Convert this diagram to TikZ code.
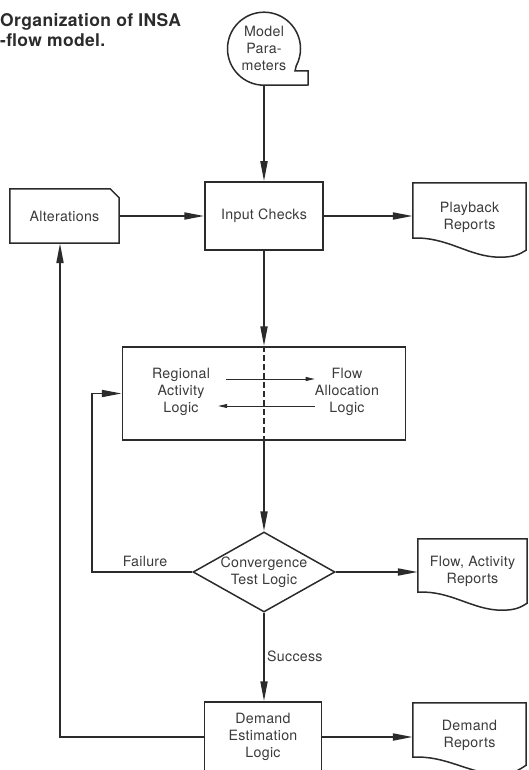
\documentclass[tikz,border=0pt]{standalone}
\usepackage{fontspec}
\setmainfont{TeX Gyre Heros}[LetterSpace=2]
\usetikzlibrary{arrows.meta,shapes.geometric,calc}
\definecolor{ink}{HTML}{2B2B2B}
\definecolor{txt}{HTML}{3A3A3A}

% document symbol: node, width, left drop, dip below, right rise
\newcommand\drawdoc[5]{%
  \draw[outline] ($(#1.south west)+(0,-#3)$) -- (#1.north west) -- (#1.north east)
    -- ($(#1.south east)+(0,-#5)$)
    .. controls ($(#1.south east)+(-0.06*#2,-#5+4)$) and ($(#1.south west)+(0.9*#2,#4)$)
    .. ($(#1.south west)+(0.77*#2,#4)$)
    .. controls ($(#1.south west)+(0.5*#2,#4)$) and ($(#1.south west)+(0.3*#2,-#3-2)$)
    .. cycle;}

\begin{document}
\begin{tikzpicture}[x=1pt,y=-1pt,
  every node/.style={font=\fontsize{14.2}{17}\selectfont, text=txt, align=center},
  outline/.style={draw=ink, line width=1.5pt, line join=miter},
  boxnode/.style={outline, rectangle, inner sep=0pt},
  bare/.style={inner sep=0pt},
  conn/.style={draw=ink, line width=1.9pt, -{Triangle[length=20pt,width=7pt]}},
  thinarrow/.style={draw=ink, line width=1pt, -{Triangle[length=9pt,width=4pt]}},
  headline/.style={font=\fontsize{17.5}{20}\selectfont\bfseries, anchor=base west,
    align=left, inner sep=0pt, text=ink}
]
\useasboundingbox (0,0) rectangle (528,770);

% heading
\node[headline] (head1) at (0,26.7) {Organization of INSA};
\node[headline] (head2) at (0,46.7) {-flow model.};

% nodes
\node[bare, circle, minimum size=73pt] (params) at (264,48.5) {Model\\Para-\\meters};
\node[boxnode, minimum width=118pt, minimum height=68pt] (ic) at (264,216) {Input Checks};
\node[bare, minimum width=109pt, minimum height=54pt] (alt) at (64.5,216) {Alterations};
\node[bare, minimum width=113pt, minimum height=68pt] (pb) at (469.5,217) {Playback\\Reports};
\node[boxnode, minimum width=283pt, minimum height=93pt] (logic) at (264,393.5) {};
\node[bare, minimum width=74pt] (regional) at (181,392) {Regional\\Activity\\Logic};
\node[bare, minimum width=60pt] (flowalloc) at (347,392) {Flow\\Allocation\\Logic};
\node[diamond, outline, aspect=1.775, inner sep=0pt, minimum width=142pt,
      minimum height=80pt] (conv) at (264,572) {Convergence\\Test Logic};
\node[bare, minimum width=109pt, minimum height=64pt] (far) at (472.5,571) {Flow, Activity\\Reports};
\node[boxnode, minimum width=117pt, minimum height=70pt] (dem) at (263,737) {Demand\\Estimation\\Logic};
\node[bare, minimum width=113pt, minimum height=64pt] (dr) at (469.5,735) {Demand\\Reports};
\node[bare] (failure) at (145,561) {Failure};
\node[bare, anchor=west] (success) at (267,656) {Success};

% magnetic tape outline
\draw[outline] (params.south) arc[start angle=90, end angle=388, radius=36.5]
  -- ($(params.center)+(31,22.5)$) -- ($(params.center)+(44,22.5)$)
  -- ($(params.center)+(44,36.5)$) -- cycle;

% card outline
\draw[outline] (alt.south west) -- (alt.north west) -- ([xshift=-9pt]alt.north east)
  -- ([yshift=-9pt]alt.north east) -- (alt.south east) -- cycle;

% report documents
\drawdoc{pb}{113}{13}{6}{1}
\drawdoc{far}{109}{11}{7}{0}
\drawdoc{dr}{113}{10}{7}{2}

% split between the two logic modules
\draw[ink, line width=2.4pt, dash pattern=on 6pt off 3pt] (logic.north) -- (logic.south);
\draw[thinarrow, shorten <=8pt] ([yshift=13pt]regional.east) -- ([yshift=13pt]regional.east -| flowalloc.west);
\draw[thinarrow] ([yshift=-14pt]flowalloc.west) -- ([yshift=-14pt]flowalloc.west -| regional.east);

% connectors
\draw[conn] (params.south) -- (ic.north);
\draw[conn] (alt.east) -- (ic.west);
\draw[conn] (ic.east) -- (ic.east -| pb.west);
\draw[conn] (ic.south) -- (logic.north);
\draw[conn] (logic.south) -- (conv.north);
\draw[conn] (conv.east) -- (conv.east -| far.west);
\draw[conn] (conv.west) -| ([xshift=-30pt]logic.west) -- (logic.west);
\draw[conn] (conv.south) -- (conv.south |- dem.north);
\draw[conn] (dem.east) -- (dem.east -| dr.west);
\draw[conn] (dem.west) -| ([xshift=-4.5pt]alt.south);
\end{tikzpicture}
\end{document}
